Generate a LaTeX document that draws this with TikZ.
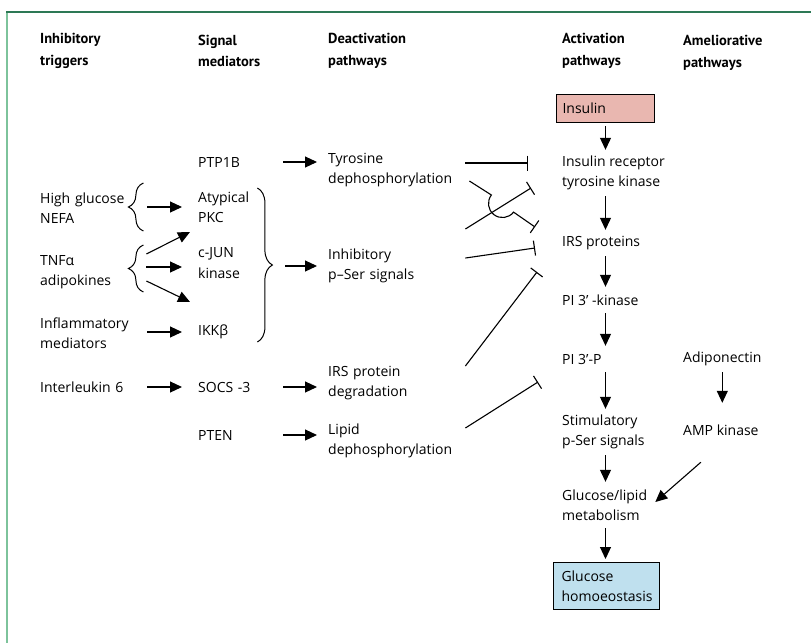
\documentclass[tikz,border=0pt]{standalone}
\usepackage{fontspec}
\setmainfont{Open Sans}
\newfontfamily\cabecera{PT Sans}
\usetikzlibrary{positioning, calc, arrows.meta, decorations.pathreplacing}
\definecolor{RosaInsulina}{RGB}{233,183,176}
\definecolor{AzulGlucosa}{RGB}{191,224,238}
\definecolor{VerdeMarco}{RGB}{45,120,85}
\definecolor{VerdeClaro}{RGB}{125,195,155}

\begin{document}
\begin{tikzpicture}[
    x=1pt, y=-1pt,
    >={Triangle[length=12pt, width=11pt]}, % punta rellena
    texto/.style={font=\fontsize{14}{20.5}\selectfont, align=left, inner sep=0pt, anchor=west, minimum height=20pt},
    doble/.style={texto, minimum height=40pt},
    disparador/.style={text width=90pt},
    mediador/.style={text width=70pt},
    via/.style={text width=125pt},
    titulo/.style={font=\cabecera\bfseries\fontsize{14.5}{21.5}\selectfont, align=left, inner sep=0pt, anchor=west},
    caja/.style={draw, line width=1pt, anchor=north west, align=left, font=\fontsize{14}{20.5}\selectfont},
    flecha/.style={->, line width=1.1pt},
    inhibe/.style={-{Bar[width=15pt]}, line width=1.1pt},
    llave/.style={decorate, decoration={brace, amplitude=15pt}, line width=1pt}
]
    \useasboundingbox (0,0) rectangle (811,643);

    % 0. Marco verde (arriba e izquierda)
    \draw[VerdeClaro, line width=2pt] (7,12) -- (7,643);
    \draw[VerdeMarco, line width=1.3pt] (6,12) -- (811,12);

    % 1. Cabeceras de columnas
    \node[titulo] (h1) at (40,51) {Inhibitory\\triggers};
    \node[titulo] (h2) at (198,51) {Signal\\mediators};
    \node[titulo] (h3) at (328,51) {Deactivation\\pathways};
    \node[titulo] (h4) at (562,51) {Activation\\pathways};
    \node[titulo] (h5) at (683,53) {Ameliorative\\pathways};

    % 2. Disparadores inhibitorios
    \node[doble, disparador] (hg) at (40,208) {High glucose\\NEFA};
    \node[doble, disparador] (tnf) at (40,272) {TNFα\\adipokines};
    \node[doble, disparador] (infl) at (40,333) {Inflammatory\\mediators};
    \node[texto, disparador] (il6) at (40,387) {Interleukin 6};

    % 3. Mediadores de la señal
    \node[texto, mediador] (ptp) at (198,162) {PTP1B};
    \node[doble, mediador] (pkc) at (198,207) {Atypical\\PKC};
    \node[doble, mediador] (jun) at (198,263) {c-JUN\\kinase};
    \node[texto, mediador] (ikk) at (198,332) {IKKβ};
    \node[texto, mediador] (socs) at (198,387) {SOCS -3};
    \node[texto, mediador] (pten) at (198,435) {PTEN};

    % 4. Vías de desactivación
    \node[doble, via] (tyr) at (328,170) {Tyrosine\\dephosphorylation};
    \node[doble, via] (pser) at (328,266) {Inhibitory\\p–Ser signals};
    \node[doble, via] (irsdeg) at (328,383) {IRS protein\\degradation};
    \node[doble, via] (lipid) at (328,441) {Lipid\\dephosphorylation};

    % 5. Vías de activación
    \node[caja, fill=RosaInsulina, text width=86pt, inner xsep=6pt, minimum height=28pt] (ins) at (556,94) {Insulin};
    \node[doble] (rec) at (562,173) {Insulin receptor\\tyrosine kinase};
    \node[texto] (irs) at (562,243) {IRS proteins};
    \node[texto] (pik) at (562,300) {PI 3’ -kinase};
    \node[texto] (pip) at (562,359) {PI 3’-P};
    \node[doble] (stim) at (562,432) {Stimulatory\\p-Ser signals};
    \node[doble] (glu) at (562,505) {Glucose/lipid\\metabolism};
    \node[caja, fill=AzulGlucosa, text width=90pt, inner xsep=8pt, inner ysep=8pt] (homeo) at (553,562) {Glucose\\homoeostasis};

    % 6. Vías que mejoran
    \node[texto] (adipo) at (683,359) {Adiponectin};
    \node[texto] (ampk) at (683,430) {AMP kinase};

    % 7. Llaves
    \draw[llave] ($(hg.east)+(13,23)$) -- ($(hg.east)+(13,-25)$);
    \draw[llave] ($(tnf.east)+(13,20)$) -- ($(tnf.east)+(13,-27)$);
    \draw[llave] ($(jun.east)+(-11,-75)$) -- ($(jun.east)+(-11,79)$);

    % 8. Flechas de disparadores a mediadores
    \draw[flecha, shorten <=17pt, shorten >=16pt] (hg.east |- pkc.west) -- (pkc.west);
    \draw[flecha] ($(tnf.east)+(16,-18)$) -- ($(jun.west)+(-8,-31)$);
    \draw[flecha] ($(tnf.east)+(16,-5)$) -- ($(jun.west)+(-16,4)$);
    \draw[flecha] ($(tnf.east)+(16,9)$) -- ($(jun.west)+(-8,39)$);
    \draw[flecha, shorten <=17pt, shorten >=16pt] (infl.east |- ikk.west) -- (ikk.west);
    \draw[flecha, shorten <=17pt, shorten >=16pt] (il6.east) -- (socs.west);

    % 9. Flechas de mediadores a vías de desactivación
    \draw[flecha, shorten <=15pt, shorten >=11pt] (ptp.east) -- (ptp.east -| tyr.west);
    \draw[flecha, shorten >=11pt] ($(pser.west)+(-43,0)$) -- (pser.west);
    \draw[flecha, shorten <=15pt, shorten >=11pt] (socs.east) -- (socs.east -| irsdeg.west);
    \draw[flecha, shorten <=15pt, shorten >=11pt] (pten.east) -- (pten.east -| lipid.west);

    % 10. Líneas de inhibición (extremos libres)
    \coordinate (tope1) at (528,163);
    \coordinate (tope2) at (531,188);
    \coordinate (tope3) at (535,227);
    \coordinate (tope4) at (535,248);
    \coordinate (tope5) at (537,272);
    \coordinate (tope6) at (538,382);
    \draw[inhibe] ($(tyr.east)+(12,-7)$) -- (tope1);
    \draw[inhibe] ($(pser.east)+(12,-37)$) -- (tope2);
    \draw[inhibe] ($(tyr.east)+(16,11)$) -- ++(22,14) arc[start angle=217.7, end angle=37.7, radius=14] -- (tope3);
    \draw[inhibe] ($(pser.east)+(12,-8)$) -- (tope4);
    \draw[inhibe] ($(irsdeg.east)+(12,-17)$) -- (tope5);
    \draw[inhibe] ($(lipid.east)+(12,-13)$) -- (tope6);

    % 11. Cadena de activación
    \draw[flecha, shorten <=3pt, shorten >=3pt] (ins.south) -- (ins.south |- rec.north);
    \draw[flecha, shorten <=3pt, shorten >=3pt] (rec.south -| ins.south) -- (irs.north -| ins.south);
    \draw[flecha, shorten <=3pt, shorten >=3pt] (irs.south -| ins.south) -- (pik.north -| ins.south);
    \draw[flecha, shorten <=3pt, shorten >=3pt] (pik.south -| ins.south) -- (pip.north -| ins.south);
    \draw[flecha, shorten <=3pt, shorten >=3pt] (pip.south -| ins.south) -- (stim.north -| ins.south);
    \draw[flecha, shorten <=3pt, shorten >=3pt] (stim.south -| ins.south) -- (glu.north -| ins.south);
    \draw[flecha, shorten <=3pt, shorten >=3pt] (glu.south -| ins.south) -- (homeo.north -| ins.south);

    % 12. Adiponectina y AMP quinasa
    \draw[flecha, shorten <=3pt, shorten >=17pt] (adipo.south) -- (adipo.south |- ampk.north);
    \draw[flecha] ($(ampk.south)+(-20,22)$) -- ($(glu.east)+(8,-3)$);

\end{tikzpicture}
\end{document}
